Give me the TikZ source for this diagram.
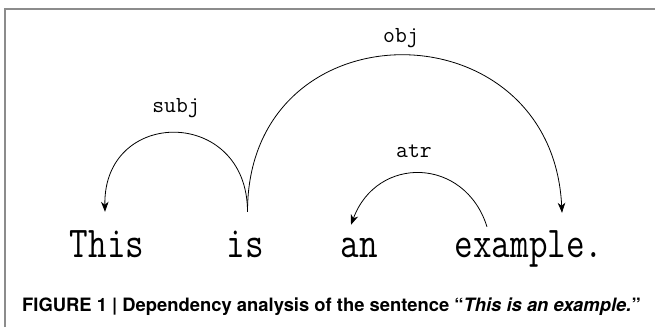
\documentclass[tikz,border=0pt]{standalone}
\usepackage{fontspec}
\newfontfamily\capfont{TeX Gyre Heros}
\usetikzlibrary{arrows.meta}

\definecolor{frameC}{HTML}{8C8C8C}

\tikzset{
  word/.style={font=\ttfamily\fontsize{44}{44}\selectfont, xscale=0.82,
    inner sep=0pt, text height=28pt, text depth=8pt, anchor=base},
  rel/.style={font=\ttfamily\fontsize{23}{23}\selectfont, inner sep=0pt, anchor=base},
  dep/.style={->, line width=0.8pt}
}

\begin{document}
\begin{tikzpicture}[x=1pt,y=1pt,>={Stealth[length=10pt,width=7.5pt,inset=3pt]}]
\useasboundingbox (0,0) rectangle (655,327);
% marc
\draw[frameC,line width=1.2pt] (5,0) -- (5,318) -- (655,318);
% paraules
\node[word] (This) at (107,70) {This};
\node[word] (is) at (245,70) {is};
\node[word] (an) at (359,70) {an};
\node[word] (example) at (529,70) {example.};
% extrems dels arcs
\coordinate (thisIn) at ([xshift=-2pt,yshift=17pt]This.north);
\coordinate (isOut) at ([xshift=2.5pt,yshift=17pt]is.north);
\coordinate (anIn) at ([xshift=-8pt,yshift=4pt]an.north);
\coordinate (exOut) at ([xshift=-42pt,yshift=2pt]example.north);
\coordinate (exIn) at ([xshift=33pt,yshift=16pt]example.north);
% dependencies
\draw[dep] (isOut) .. controls +(0,105) and +(-2,105) .. (thisIn);
\draw[dep] (isOut) .. controls +(0,209) and +(-10,209) .. (exIn);
\draw[dep] (exOut) .. controls +(-22,70) and +(26,70) .. (anIn);
\node[rel] (subjL) at (176,214) {subj};
\node[rel] (objL) at (401,284) {obj};
\node[rel] (atrL) at (414,169) {atr};
% peu de figura
\node[anchor=base west, inner sep=0pt, font=\capfont\bfseries\fontsize{18.4}{18.4}\selectfont]
  (caption) at (22,16) {FIGURE 1 | Dependency analysis of the sentence “\textit{This is an example.}”};
\end{tikzpicture}
\end{document}
